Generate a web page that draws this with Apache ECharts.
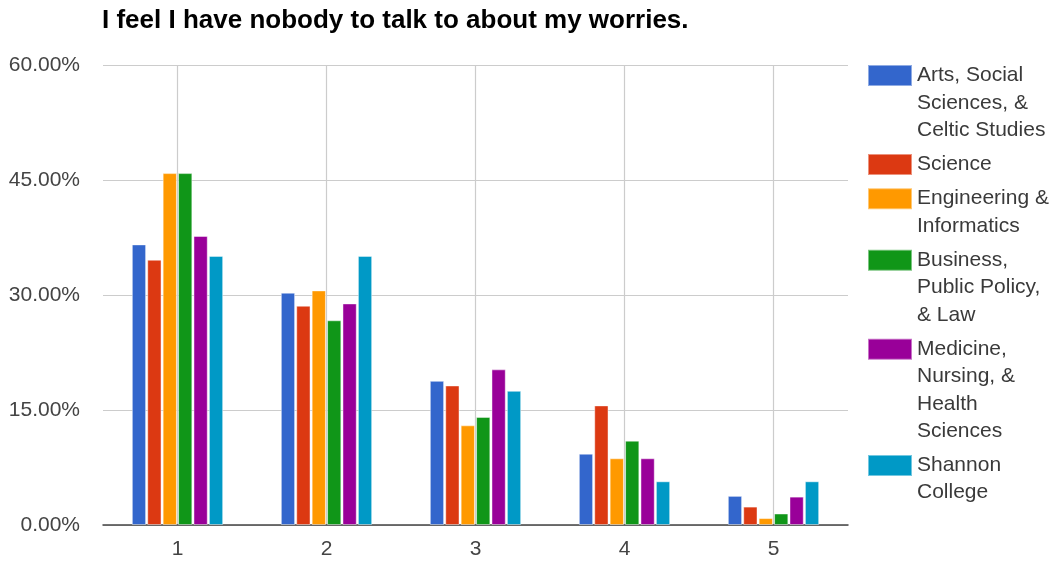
<!DOCTYPE html>
<html>
<head>
<meta charset="utf-8">
<script src="https://cdn.jsdelivr.net/npm/echarts@6/dist/echarts.min.js"></script>
<style>
  html, body { margin: 0; padding: 0; background: #fff; }
  #chart { width: 1053px; height: 562px; }
</style>
</head>
<body>
<div id="chart"></div>
<script>
// Survey responses (1 = strongly disagree ... 5 = strongly agree), share per faculty in %
const responses = ['1', '2', '3', '4', '5'];
const faculties = [
  'Arts, Social\nSciences, &\nCeltic Studies',
  'Science',
  'Engineering &\nInformatics',
  'Business,\nPublic Policy,\n& Law',
  'Medicine,\nNursing, &\nHealth\nSciences',
  'Shannon\nCollege'
];
const artsValues     = [36.6, 30.3, 18.8, 9.3, 3.8];
const scienceValues  = [34.6, 28.6, 18.2, 15.6, 2.4];
const engValues      = [45.9, 30.6, 13.0, 8.7, 0.9];
const businessValues = [45.9, 26.7, 14.1, 11.0, 1.5];
const medicineValues = [37.7, 28.9, 20.3, 8.7, 3.7];
const shannonValues  = [35.1, 35.1, 17.5, 5.7, 5.7];
const yTicks = [0, 15, 30, 45, 60];

const seriesValues = [artsValues, scienceValues, engValues, businessValues, medicineValues, shannonValues];
const palette = ['#3366cc', '#dc3912', '#ff9900', '#109618', '#990099', '#0099c6'];

const FONT = '"Liberation Sans", Arial, sans-serif';
const LINE_H = 27.3;
const LEGEND_GAP = 7;

// One legend block per faculty; blank lines are prepended so the first
// text line sits level with the swatch (legend text is centred on the icon)
const legends = [];
let centerY = 75.5;
faculties.forEach((name) => {
  const n = name.split('\n').length;
  legends.push({
    data: [name],
    orient: 'vertical',
    left: 867,
    top: centerY - (2 * n - 1) * LINE_H / 2,
    padding: 0,
    itemWidth: 44,
    itemHeight: 21,
    itemGap: 0,
    icon: 'rect',
    selectedMode: false,
    formatter: (label) => '\n'.repeat(n - 1) + label,
    textStyle: {
      fontFamily: FONT,
      fontSize: 21,
      color: '#3a3a3a',
      lineHeight: LINE_H
    }
  });
  centerY += n * LINE_H + LEGEND_GAP;
});

const chart = echarts.init(document.getElementById('chart'));
chart.setOption({
  animation: false,
  backgroundColor: '#fff',
  color: palette,
  title: {
    text: 'I feel I have nobody to talk to about my worries.',
    left: 102,
    top: 7,
    padding: 0,
    textStyle: { fontFamily: FONT, fontSize: 26, fontWeight: 'bold', color: '#000', lineHeight: 28 }
  },
  legend: legends,
  grid: { left: 103, right: 205, top: 65, bottom: 37, containLabel: false },
  xAxis: {
    type: 'category',
    data: responses,
    boundaryGap: true,
    axisLine: { show: true, lineStyle: { color: '#444', width: 1.5 } },
    axisTick: { show: false },
    axisLabel: { fontFamily: FONT, fontSize: 21, color: '#444', margin: 14 },
    splitLine: { show: true, alignWithLabel: true, lineStyle: { color: '#cccccc', width: 1.2 } }
  },
  yAxis: {
    type: 'value',
    min: yTicks[0],
    max: yTicks[yTicks.length - 1],
    interval: yTicks[1] - yTicks[0],
    axisLine: { show: false },
    axisTick: { show: false },
    axisLabel: {
      fontFamily: FONT, fontSize: 21, color: '#444', margin: 23,
      formatter: (v) => v.toFixed(2) + '%'
    },
    splitLine: { show: true, lineStyle: { color: '#cccccc', width: 1.2 } }
  },
  series: faculties.map((name, i) => ({
    name: name,
    type: 'bar',
    data: seriesValues[i],
    barCategoryGap: '38.7%',
    barGap: '8%',
    itemStyle: { borderColor: 'rgba(255,255,255,0.45)', borderWidth: 1 }
  }))
});
</script>
</body>
</html>
